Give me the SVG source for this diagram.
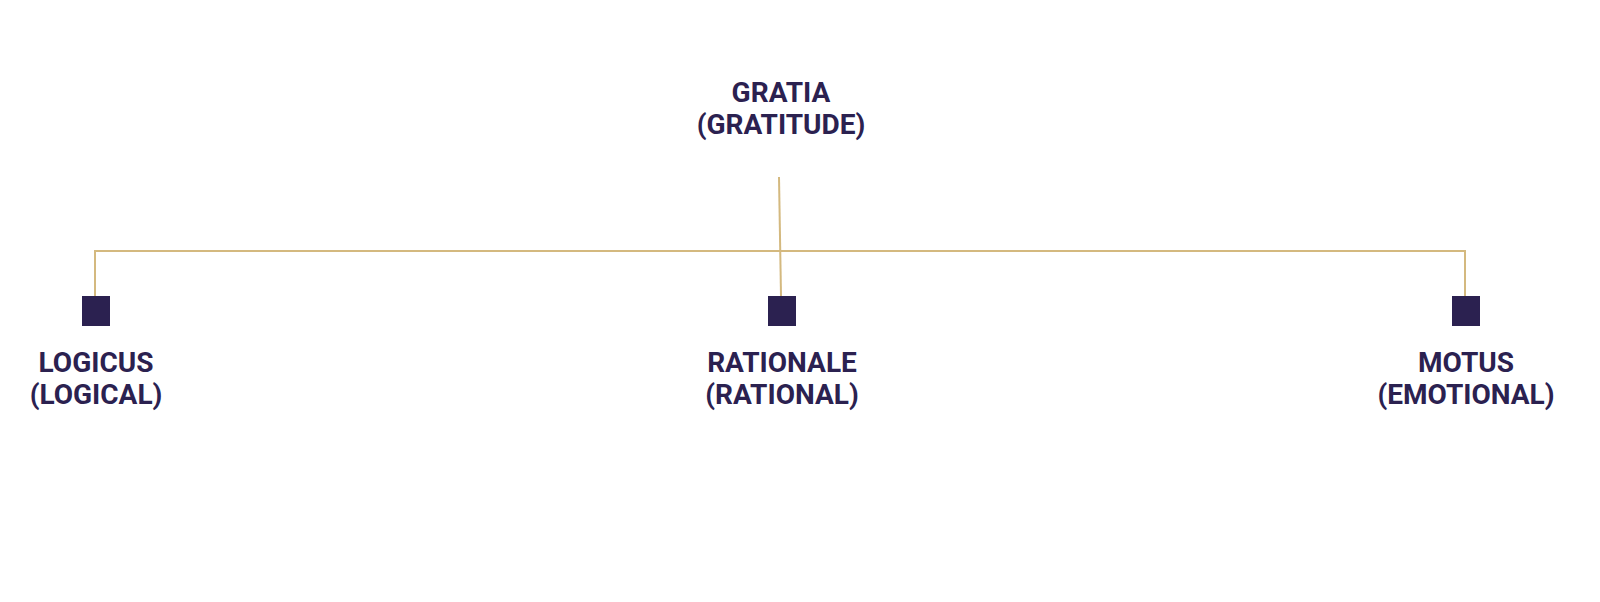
<svg xmlns="http://www.w3.org/2000/svg" width="1600" height="602" viewBox="0 0 1600 602">
<style>
.lbl{font-family:Roboto,"Liberation Sans",sans-serif;font-weight:700;font-size:28px;fill:#2b2150;text-anchor:middle}
.sq{fill:#2b2150}
.ln{stroke:#d4b97f;stroke-width:2;fill:none}
</style>
<rect width="1600" height="602" fill="#ffffff"/>
<g id="connectors">
<path class="ln" d="M95,296 V251 H1465 V296"/>
<path class="ln" d="M779,177 L781,296"/>
</g>
<g id="gratia">
<text class="lbl" x="781" y="102">GRATIA</text>
<text class="lbl" x="781" y="134">(GRATITUDE)</text>
</g>
<g id="logicus">
<rect class="sq" x="82" y="296" width="28" height="30"/>
<text class="lbl" x="96" y="372">LOGICUS</text>
<text class="lbl" x="96" y="404">(LOGICAL)</text>
</g>
<g id="rationale">
<rect class="sq" x="768" y="296" width="28" height="30"/>
<text class="lbl" x="782" y="372">RATIONALE</text>
<text class="lbl" x="782" y="404">(RATIONAL)</text>
</g>
<g id="motus">
<rect class="sq" x="1452" y="296" width="28" height="30"/>
<text class="lbl" x="1466" y="372">MOTUS</text>
<text class="lbl" x="1466" y="404">(EMOTIONAL)</text>
</g>
</svg>
